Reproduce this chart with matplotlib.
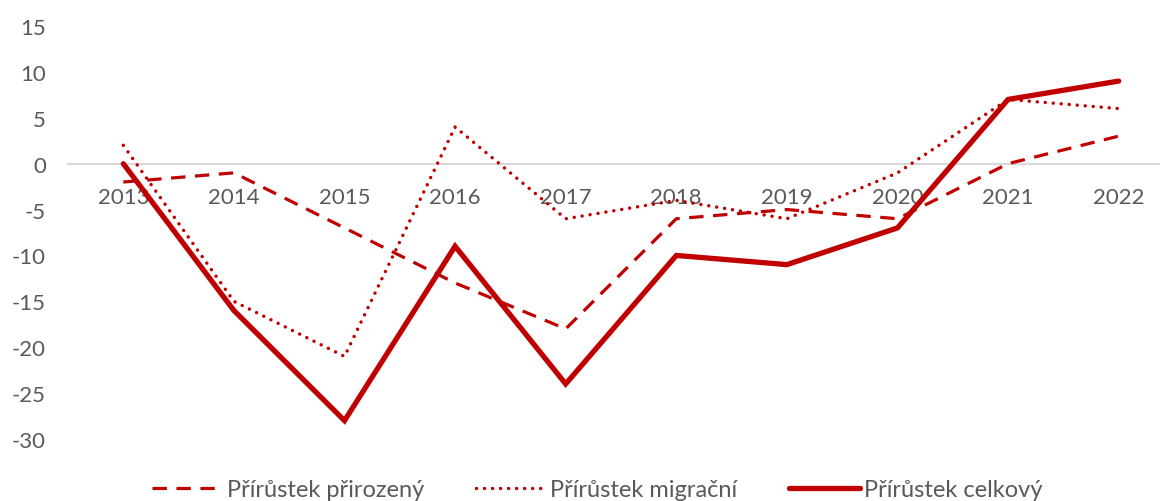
import matplotlib
matplotlib.use("Agg")
import matplotlib.pyplot as plt

years = ["2013", "2014", "2015", "2016", "2017", "2018", "2019", "2020", "2021", "2022"]
prirozeny = [-2, -1, -7, -13, -18, -6, -5, -6, 0, 3]
migracni = [2, -15, -21, 4, -6, -4, -6, -1, 7, 6]
celkovy = [0, -16, -28, -9, -24, -10, -11, -7, 7, 9]
yticks = [-30, -25, -20, -15, -10, -5, 0, 5, 10, 15]

RED = "#C00000"
GRAY = "#595959"
plt.rcParams['font.family'] = ['Lato', 'DejaVu Sans']

fig = plt.figure(figsize=(11.6, 5.02), dpi=100)
W, H = 1160, 502
left, right, top, bottom = 68, 1174, 27, 440
ax = fig.add_axes([left / W, 1 - bottom / H, (right - left) / W, (bottom - top) / H])

x = list(range(len(years)))
ax.plot(x, prirozeny, color=RED, lw=2.3, linestyle=(0, (4.5, 3)), dash_capstyle='butt',
        label="Přírůstek přirozený")
ax.plot(x, migracni, color=RED, lw=2.5, linestyle=(0, (0.01, 2.3)), dash_capstyle='round',
        label="Přírůstek migrační")
ax.plot(x, celkovy, color=RED, lw=3.8, solid_capstyle='round', solid_joinstyle='miter',
        label="Přírůstek celkový")

ax.set_xlim(-0.5, len(years) - 0.5)
ax.set_ylim(-30, 15)
ax.set_yticks(yticks)
ax.set_yticklabels([str(v) for v in yticks])
ax.set_xticks(x)
ax.set_xticklabels(years)

for s in ["top", "right", "left"]:
    ax.spines[s].set_visible(False)
ax.spines["bottom"].set_position(("data", 0))
ax.spines["bottom"].set_color("#D9D9D9")
ax.spines["bottom"].set_linewidth(1.5)
ax.spines["bottom"].set_zorder(0)
ax.tick_params(axis="both", length=0, labelsize=16, labelcolor=GRAY)
ax.tick_params(axis="x", pad=17)
ax.tick_params(axis="y", pad=16)

leg = fig.legend(loc="center", bbox_to_anchor=(0.515, 0.022), ncol=3, frameon=False,
                 fontsize=17, labelcolor=GRAY, handlelength=3, handletextpad=0.15,
                 columnspacing=2.2)

fig.savefig("out.png", dpi=100)
